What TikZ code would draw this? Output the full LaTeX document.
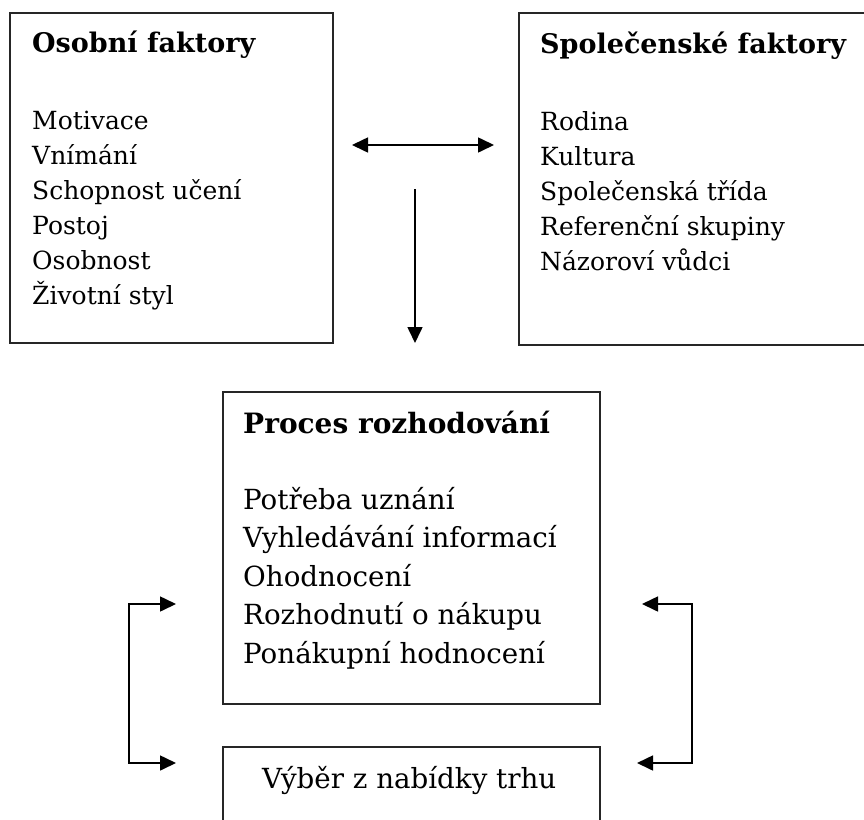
\documentclass[tikz,border=0pt]{standalone}
\usepackage{fontspec}
\setmainfont{DejaVu Serif}
\usetikzlibrary{calc}
\usetikzlibrary{arrows.meta}
\newcommand*{\smallfs}{\fontsize{25}{35}\selectfont}
\newcommand*{\smallbf}{\fontsize{27}{35}\selectfont\bfseries}
\newcommand*{\bigfs  }{\fontsize{27.7}{38.5}\selectfont}
\newcommand*{\bigbf  }{\fontsize{28}{38.5}\selectfont\bfseries}
\newcommand*{\itemlist}[1]{\begin{tabular}[t]{@{}l@{}}#1\end{tabular}}

\tikzset{
    frame/.style = {draw=black!85, line width=1.8pt, inner sep=0pt, outer sep=0pt},
    label/.style = {anchor=base west, inner sep=0pt},
    link/.style  = {line width=1.6pt, {Triangle[length=16pt,width=15pt]}-{Triangle[length=16pt,width=15pt]}},
    pointer/.style = {line width=1.6pt, -{Triangle[length=16pt,width=15pt]}}
}

\begin{document}
\begin{tikzpicture}[x=1pt, y=-1pt]
    \useasboundingbox (0,0) rectangle (864,819);
        \node [frame, minimum width=323pt, minimum height=330pt] (osobni) at (171.5,178) {};
        \node [frame, minimum width=361pt, minimum height=332pt] (spolec) at (699.5,179) {};
        \node [frame, minimum width=377pt, minimum height=312pt] (proces) at (411.5,548) {};
        \node [frame, minimum width=377pt, minimum height=90pt ] (vyber)  at (411.5,792) {};
        % texts of the boxes
        \node [label, font=\smallbf] (osobni-h) at ($(osobni.north west)+(22,39)$) {Osobní faktory};
        \node [label, font=\smallfs] (osobni-t) at ($(osobni.north west)+(22,116)$) {\itemlist{Motivace\\Vnímání\\Schopnost učení\\Postoj\\Osobnost\\Životní styl}};
        \node [label, font=\smallbf] (spolec-h) at ($(spolec.north west)+(21,40)$) {Společenské faktory};
        \node [label, font=\smallfs] (spolec-t) at ($(spolec.north west)+(21,117)$) {\itemlist{Rodina\\Kultura\\Společenská třída\\Referenční skupiny\\Názoroví vůdci}};
        \node [label, font=\bigbf] (proces-h) at ($(proces.north west)+(20,41)$) {Proces rozhodování};
        \node [label, font=\bigfs] (proces-t) at ($(proces.north west)+(20,117)$) {\itemlist{Potřeba uznání\\Vyhledávání informací\\Ohodnocení\\Rozhodnutí o nákupu\\Ponákupní hodnocení}};
        \node [label, font=\bigfs] (vyber-t) at ($(vyber.north west)+(39,41)$) {Výběr z nabídky trhu};
        % free ends of the arrows
        \coordinate (dbl-l) at ($(osobni.north east)+(19,132)$);
        \coordinate (dbl-r) at ($(spolec.north west)+(-25,132)$);
        \coordinate (dn-s)  at ($(osobni.north east)+(82,176)$);
        \coordinate (dn-e)  at ($(proces.north)+(3.5,-49)$);
        \coordinate (lb-t)  at ($(proces.north west)+(-47,212)$);
        \coordinate (lb-b)  at ($(vyber.north west)+(-47,16)$);
        \coordinate (rb-t)  at ($(proces.north east)+(42,212)$);
        \coordinate (rb-b)  at ($(vyber.north east)+(37,16)$);
        \draw [link] (dbl-l) -- (dbl-r);
        \draw [pointer] (dn-s) -- (dn-s |- dn-e);
        \draw [link] (lb-t) -- ++(-47,0) |- (lb-b);
        \draw [link] (rb-t) -- ++(50,0) |- (rb-b);
    \end{tikzpicture}
\end{document}
